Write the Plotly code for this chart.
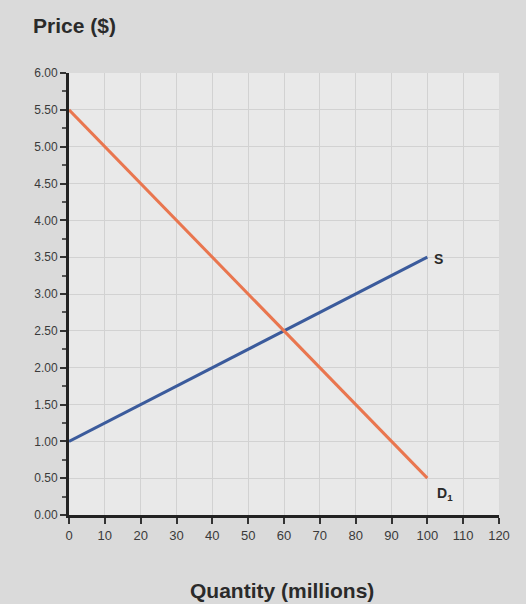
import plotly.graph_objects as go

quantity = [0, 100]
supply_price = [1.0, 3.5]
demand_price = [5.5, 0.5]
x_ticks = [0, 10, 20, 30, 40, 50, 60, 70, 80, 90, 100, 110, 120]
y_ticks = [0, 0.5, 1, 1.5, 2, 2.5, 3, 3.5, 4, 4.5, 5, 5.5, 6]

fig = go.Figure()
fig.add_trace(go.Scatter(x=quantity, y=supply_price, mode="lines",
                         line=dict(color="#3b5b9c", width=3), name="S"))
fig.add_trace(go.Scatter(x=quantity, y=demand_price, mode="lines",
                         line=dict(color="#e9764f", width=3), name="D1"))

fig.add_annotation(x=quantity[-1], y=supply_price[-1], text="<b>S</b>", showarrow=False,
                   xanchor="left", xshift=5, yshift=-2, font=dict(size=14, color="#2a2a2a"))
fig.add_annotation(x=quantity[-1], y=demand_price[-1], text="<b>D<sub>1</sub></b>", showarrow=False,
                   xanchor="left", yshift=-16, xshift=8, font=dict(size=14, color="#2a2a2a"))
fig.add_annotation(text="<b>Price ($)</b>", xref="paper", yref="paper", x=-0.088, y=1.0,
                   yshift=48, xanchor="left", yanchor="middle", showarrow=False,
                   font=dict(size=21, color="#2a2a2a"))
fig.add_annotation(text="<b>Quantity (millions)</b>", xref="paper", yref="paper", x=0.496, y=0,
                   yshift=-75, xanchor="center", yanchor="middle", showarrow=False,
                   font=dict(size=21, color="#2a2a2a"))

fig.update_layout(
    width=526, height=604,
    margin=dict(l=69, r=27, t=73, b=89),
    paper_bgcolor="#dadada", plot_bgcolor="#e9e9e9",
    showlegend=False,
    font=dict(family="Liberation Sans, Arial, sans-serif", color="#3a3a3a"),
)

fig.update_xaxes(range=[0, 120], tickvals=x_ticks, ticktext=[str(v) for v in x_ticks],
                 showgrid=True, gridcolor="#d2d2d2", gridwidth=1, zeroline=False,
                 showline=True, linecolor="#222222", linewidth=3,
                 ticks="outside", ticklen=6, tickwidth=1.5, tickcolor="#333333",
                 tickfont=dict(size=13, color="#3a3a3a"))
fig.update_yaxes(range=[0, 6], tickvals=y_ticks, ticktext=[f"{v:.2f}" for v in y_ticks],
                 showgrid=True, gridcolor="#d2d2d2", gridwidth=1, zeroline=False,
                 showline=True, linecolor="#222222", linewidth=3,
                 ticks="outside", ticklen=6, tickwidth=1.5, tickcolor="#333333",
                 minor=dict(dtick=0.25, ticks="outside", ticklen=4, tickcolor="#555555", showgrid=False),
                 tickfont=dict(size=12, color="#3a3a3a"))

fig.write_html("out.html", config={"displayModeBar": False},
               post_script="document.body.style.margin='0';")
